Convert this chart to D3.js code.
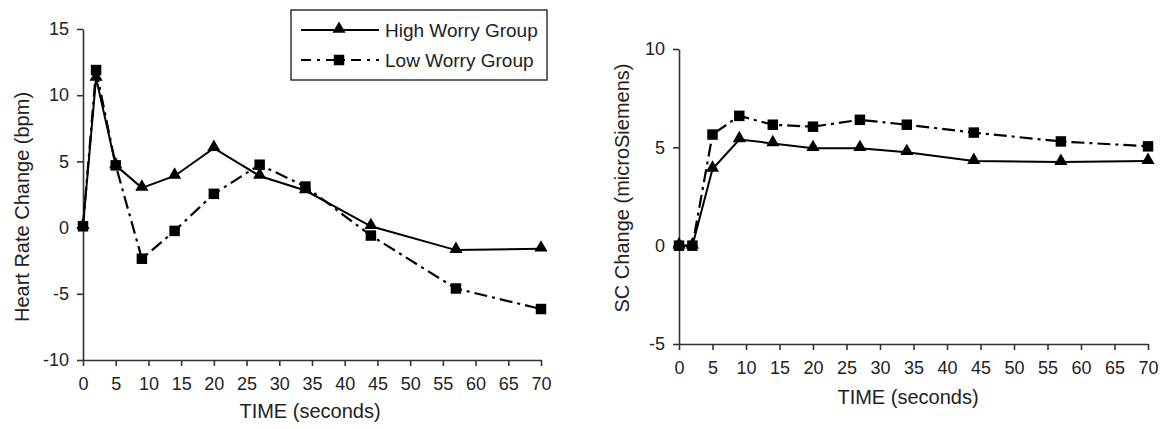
<!DOCTYPE html>
<html>
<head>
<meta charset="utf-8">
<script src="https://cdn.jsdelivr.net/npm/d3@7"></script>
<style>
  body { margin: 0; background: #fff; }
  svg { font-family: "Liberation Sans", Arial, sans-serif; }
  .axis path, .axis line { stroke: #333; stroke-width: 1.6; }
  .axis text { font-size: 18px; fill: #222; }
</style>
</head>
<body>
<div id="chart"></div>
<script>
// time points (seconds)
var times = [0, 2, 5, 9, 14, 20, 27, 34, 44, 57, 70]

// heart rate change (bpm)
var hrHigh = [0.1, 11.3, 4.7, 3.0, 3.9, 6.0, 3.9, 2.8, 0.1, -1.7, -1.6]
var hrLow = [0.1, 11.9, 4.7, -2.35, -0.25, 2.55, 4.75, 3.1, -0.6, -4.6, -6.15]

// skin conductance change (microSiemens)
var scHigh = [0, 0, 3.9, 5.4, 5.2, 4.95, 4.95, 4.75, 4.3, 4.25, 4.3]
var scLow = [0, 0, 5.65, 6.6, 6.15, 6.05, 6.4, 6.15, 5.75, 5.3, 5.05]

var xTicks = [0, 5, 10, 15, 20, 25, 30, 35, 40, 45, 50, 55, 60, 65, 70]
var hrTicks = [-10, -5, 0, 5, 10, 15]
var scTicks = [-5, 0, 5, 10]

var seriesNames = ['High Worry Group', 'Low Worry Group']

var width = 1162, height = 429

var svg = d3.select('#chart')
  .append('svg')
  .attr('width', width)
  .attr('height', height)

var lowDash = '13,5,3,5'
var squareSize = 110
var triangleSize = 75

function drawPanel(opts) {
  var xScale = d3.scaleLinear()
    .domain([0, 70])
    .range([opts.left, opts.right])

  var yScale = d3.scaleLinear()
    .domain(opts.yDomain)
    .range([opts.bottom, opts.top])

  var g = svg.append('g')

  // x axis
  g.append('g')
    .attr('class', 'axis')
    .attr('transform', `translate(0,${opts.bottom})`)
    .call(d3.axisBottom(xScale).tickValues(xTicks).tickSize(6).tickSizeOuter(0).tickPadding(11)
      .tickFormat(d => String(d)))

  // y axis
  g.append('g')
    .attr('class', 'axis')
    .attr('transform', `translate(${opts.left},0)`)
    .call(d3.axisLeft(yScale).tickValues(opts.yTicks).tickSize(6).tickSizeOuter(0).tickPadding(8)
      .tickFormat(d => String(d)))

  g.append('text')
    .attr('x', opts.titleX)
    .attr('y', opts.bottom + opts.titleDy)
    .attr('text-anchor', 'middle')
    .style('font-size', '20px')
    .style('fill', '#222')
    .text('TIME (seconds)')

  g.append('text')
    .attr('transform', `translate(${opts.labelX},${opts.labelY}) rotate(-90)`)
    .attr('text-anchor', 'middle')
    .style('font-size', '20px')
    .style('fill', '#222')
    .text(opts.yLabel)

  var line = d3.line()
    .x(function(d) { return xScale(d[0]) })
    .y(function(d) { return yScale(d[1]) })

  var high = times.map(function(t, i) { return [t, opts.high[i]] })
  var low = times.map(function(t, i) { return [t, opts.low[i]] })

  g.append('path')
    .attr('d', line(low))
    .attr('fill', 'none')
    .attr('stroke', '#000')
    .attr('stroke-width', 2.2)
    .attr('stroke-dasharray', lowDash)

  g.append('path')
    .attr('d', line(high))
    .attr('fill', 'none')
    .attr('stroke', '#000')
    .attr('stroke-width', 2)

  g.selectAll('.sq')
    .data(low)
    .enter()
    .append('path')
    .attr('class', 'sq')
    .attr('d', d3.symbol().type(d3.symbolSquare).size(squareSize))
    .attr('transform', d => `translate(${xScale(d[0])},${yScale(d[1])})`)
    .attr('fill', '#000')

  g.selectAll('.tri')
    .data(high)
    .enter()
    .append('path')
    .attr('class', 'tri')
    .attr('d', d3.symbol().type(d3.symbolTriangle).size(triangleSize))
    .attr('transform', d => `translate(${xScale(d[0])},${yScale(d[1]) - 1})`)
    .attr('fill', '#000')
}

drawPanel({
  left: 83, right: 541, top: 29, bottom: 360,
  yDomain: [-10, 15], yTicks: hrTicks,
  yLabel: 'Heart Rate Change (bpm)',
  labelX: 29, labelY: 207,
  titleX: 310, titleDy: 58,
  high: hrHigh, low: hrLow
})

drawPanel({
  left: 679, right: 1148, top: 49, bottom: 344,
  yDomain: [-5, 10], yTicks: scTicks,
  yLabel: 'SC Change (microSiemens)',
  labelX: 629, labelY: 188,
  titleX: 908, titleDy: 60,
  high: scHigh, low: scLow
})

// legend
var legend = svg.append('g')

legend.append('rect')
  .attr('x', 291)
  .attr('y', 10)
  .attr('width', 256)
  .attr('height', 70)
  .attr('fill', '#fff')
  .attr('stroke', '#333')
  .attr('stroke-width', 1.5)

seriesNames.forEach(function(name, i) {
  var y = 30 + i * 30
  legend.append('line')
    .attr('x1', 301).attr('x2', 379)
    .attr('y1', y).attr('y2', y)
    .attr('stroke', '#000')
    .attr('stroke-width', 2)
    .attr('stroke-dasharray', i === 0 ? null : '10,6,3,6')
  legend.append('path')
    .attr('d', d3.symbol().type(i === 0 ? d3.symbolTriangle : d3.symbolSquare).size(i === 0 ? triangleSize : squareSize))
    .attr('transform', `translate(339,${y - (i === 0 ? 1 : 0)})`)
    .attr('fill', '#000')
  legend.append('text')
    .attr('x', 385)
    .attr('y', y + 7)
    .style('font-size', '19px')
    .style('fill', '#222')
    .text(name)
})
</script>
</body>
</html>
